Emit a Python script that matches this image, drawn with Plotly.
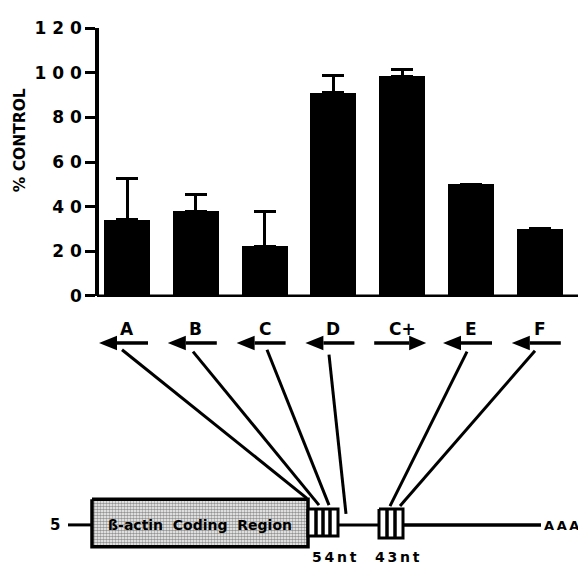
import plotly.graph_objects as go

# ---------------- data ----------------
categories = ["A", "B", "C", "D", "C+", "E", "F"]
percent_control = [34, 38, 22, 91, 98.5, 50, 30]
error_plus = [18.5, 7.5, 16, 8, 3, None, None]
arrow_direction = ["left", "left", "left", "left", "right", "left", "left"]
y_ticks = [0, 20, 40, 60, 80, 100, 120]
y_tick_labels = ["0", "2 0", "4 0", "6 0", "8 0", "1 0 0", "1 2 0"]
y_title = "% CONTROL"
coding_label = "ß-actin  Coding  Region"
motif_labels = ["5\u20094\u2009n\u2009t", "4\u20093\u2009n\u2009t"]
poly_a_label = "A\u2009A\u2009A"

# ---------------- layout geometry (pixels) ----------------
W, H = 578, 574
PX_PER_CAT = 68.8
FIRST_BAR_PX = 127.0
AXIS_PX = 97.0
PLOT_TOP_PX, PLOT_BOTTOM_PX = 19.0, 296.0
XMIN = -FIRST_BAR_PX / PX_PER_CAT
XMAX = (W - FIRST_BAR_PX) / PX_PER_CAT
FONT = "DejaVu Sans, Liberation Sans, Arial, sans-serif"


def X(px):
    """pixel x -> category axis units"""
    return XMIN + px / PX_PER_CAT


x_pos = list(range(len(categories)))

fig = go.Figure()

# error bars (upper only) drawn first, bars drawn over them
fig.add_trace(go.Bar(
    x=x_pos, y=percent_control, width=0.67,
    marker=dict(color="black", line=dict(width=0)),
    error_y=dict(type="data", symmetric=False, array=error_plus,
                 arrayminus=[0] * len(categories), color="black",
                 thickness=3, width=11),
    xaxis="x", yaxis="y", showlegend=False, hoverinfo="skip",
))
fig.add_trace(go.Bar(
    x=x_pos, y=percent_control, width=0.67,
    marker=dict(color="black", line=dict(width=0)),
    xaxis="x", yaxis="y", showlegend=False, hoverinfo="skip",
))


def line(xs, ys, w=3):
    fig.add_trace(go.Scatter(x=xs, y=ys, mode="lines", xaxis="x", yaxis="y2",
                             line=dict(color="black", width=w),
                             showlegend=False, hoverinfo="skip"))


def poly(xs, ys, fill="black", w=0, pattern=None):
    kw = {}
    if pattern:
        kw["fillpattern"] = pattern
    fig.add_trace(go.Scatter(x=xs + [xs[0]], y=ys + [ys[0]], mode="lines",
                             fill="toself", fillcolor=fill, xaxis="x", yaxis="y2",
                             line=dict(color="black", width=w),
                             showlegend=False, hoverinfo="skip", **kw))


# baseline of bar chart
line([X(AXIS_PX), X(W)], [PLOT_BOTTOM_PX, PLOT_BOTTOM_PX], w=2.5)

# ---------------- oligo arrows ----------------
ARROW_Y = 345
HEAD_H = 7.5
annotations = []
for i, (cat, d) in enumerate(zip(categories, arrow_direction)):
    cpx = FIRST_BAR_PX + i * PX_PER_CAT
    if d == "left":
        tip, base, end = cpx - 28, cpx - 10, cpx + 21
    else:
        tip, base, end = cpx + 24, cpx + 7, cpx - 28
    line([X(end), X(base)], [ARROW_Y, ARROW_Y], w=3.5)
    poly([X(tip), X(base), X(base)], [ARROW_Y, ARROW_Y - HEAD_H, ARROW_Y + HEAD_H])
    annotations.append(dict(x=X(cpx), y=330, text="<b>%s</b>" % cat, font=dict(size=17)))

# connector lines (pixels): start under arrow -> end on gene map
conn_start = [(122, 352), (193, 354), (267, 352), (329, 357), (467, 354), (535, 353)]
conn_end = [(307, 506), (319, 513), (329, 513), (346, 522), (390, 514), (400, 514)]
for (x0, y0), (x1, y1) in zip(conn_start, conn_end):
    line([X(x0), X(x1)], [y0, y1], w=3)

# ---------------- gene map ----------------
MAIN_Y = 533.5
line([X(68), X(92)], [MAIN_Y, MAIN_Y], w=3)
line([X(338), X(379)], [MAIN_Y, MAIN_Y], w=3)
line([X(403), X(541)], [MAIN_Y, MAIN_Y], w=3.5)

# coding region box with stipple
poly([X(92), X(308), X(308), X(92)], [507, 507, 556, 556], fill="white", w=3.5,
     pattern=dict(shape=".", size=3, solidity=0.6, fgcolor="#2a2a2a", bgcolor="white"))
# 54nt box
poly([X(308), X(338), X(338), X(308)], [517, 517, 545, 545], fill="white", w=3)
for sx in (316, 323, 330):
    line([X(sx), X(sx)], [518, 544], w=3.5)
# 43nt box
poly([X(379), X(403), X(403), X(379)], [517, 517, 547, 547], fill="white", w=3)
for sx in (387, 395):
    line([X(sx), X(sx)], [518, 546], w=3.5)

annotations += [
    dict(x=X(200), y=534, text="<b>%s</b>" % coding_label, font=dict(size=14)),
    dict(x=X(55), y=534, text="<b>5</b>", font=dict(size=15)),
    dict(x=X(542), y=534, text="<b>%s</b>" % poly_a_label, font=dict(size=13), xanchor="left"),
    dict(x=X(334), y=567, text="<b>%s</b>" % motif_labels[0], font=dict(size=14)),
    dict(x=X(397), y=567, text="<b>%s</b>" % motif_labels[1], font=dict(size=14)),
]
for a in annotations:
    a.setdefault("xref", "x")
    a.setdefault("yref", "y2")
    a.setdefault("showarrow", False)
    a.setdefault("xanchor", "center")
    a.setdefault("yanchor", "middle")
    a["font"].setdefault("family", FONT)
    a["font"].setdefault("color", "black")

# y-axis title
annotations.append(dict(x=20 / W, y=1 - 135 / H, xref="paper", yref="paper",
                        text="<b>%s</b>" % y_title, textangle=-90, showarrow=False,
                        font=dict(size=15.5, color="black", family=FONT),
                        xanchor="center", yanchor="middle"))

ydom = [1 - PLOT_BOTTOM_PX / H, 1 - PLOT_TOP_PX / H]
fig.update_layout(
    width=W, height=H,
    margin=dict(l=0, r=0, t=0, b=0),
    paper_bgcolor="white", plot_bgcolor="rgba(0,0,0,0)",
    font=dict(family=FONT, color="black"),
    showlegend=False,
    barmode="overlay",
    bargap=0,
    xaxis=dict(domain=[0, 1], range=[XMIN, XMAX], visible=False, anchor="y", fixedrange=True),
    yaxis=dict(domain=ydom, range=[0, 120], anchor="free", position=AXIS_PX / W,
               showline=True, linewidth=3.5, linecolor="black",
               ticks="outside", ticklen=10, tickwidth=2.5, tickcolor="black",
               tickmode="array", tickvals=y_ticks,
               ticktext=["<b>%s</b>" % t for t in y_tick_labels],
               tickfont=dict(size=17, color="black", family=FONT),
               showgrid=False, zeroline=False, fixedrange=True),
    yaxis3=dict(overlaying="y", range=[0, 120], anchor="free", position=AXIS_PX / W,
                ticks="inside", ticklen=4, tickwidth=2.5, tickcolor="black",
                tickmode="array", tickvals=y_ticks, showticklabels=False,
                showline=False, showgrid=False, zeroline=False, fixedrange=True),
    yaxis2=dict(domain=[0, 1], range=[H, 0], anchor="x", visible=False, fixedrange=True),
    annotations=annotations,
)

fig.write_html("out.html", config={"displayModeBar": False},
               post_script="document.body.style.margin='0px';"
                           "document.body.style.overflow='hidden';")
